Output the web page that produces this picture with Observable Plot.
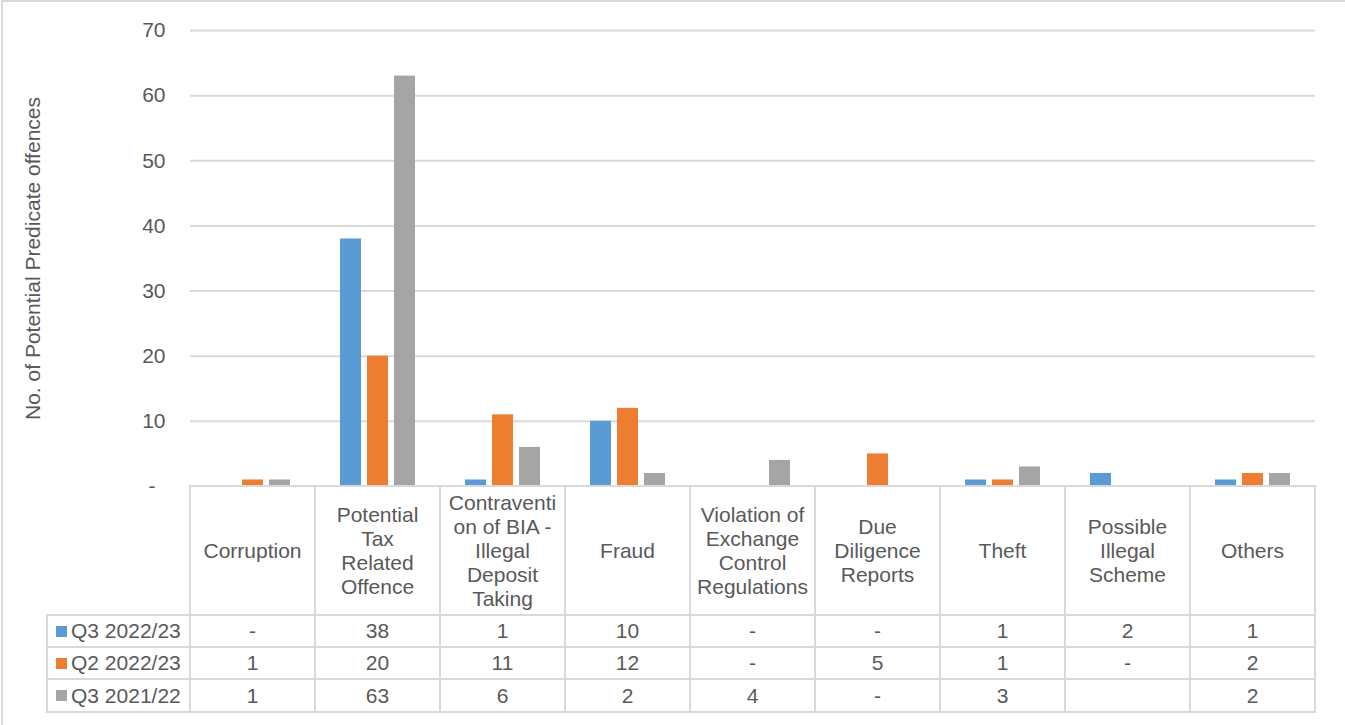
<!DOCTYPE html>
<html>
<head>
<meta charset="utf-8">
<script src="https://cdn.jsdelivr.net/npm/d3@7"></script>
<script src="https://cdn.jsdelivr.net/npm/@observablehq/plot@0.6"></script>
<style>
  body { margin: 0; background: #fff; }
  #wrap { position: relative; width: 1345px; height: 725px; overflow: hidden;
          font-family: "Liberation Sans", Arial, sans-serif; color: #595959; background: #fff; }
  #frame { position: absolute; left: 1px; top: 0; width: 1400px; height: 800px;
           border-left: 2px solid #d9d9d9; border-top: 2px solid #d9d9d9; box-sizing: border-box; }
  #chart { position: absolute; left: 0; top: 0; }
  .cell { position: absolute; box-sizing: border-box; border: 2px solid #d9d9d9;
          display: flex; align-items: center; justify-content: center; text-align: center;
          font-size: 21px; line-height: 24px; color: #595959; }
  .leg { justify-content: flex-start; padding-left: 8px; }
  .sw { width: 11px; height: 11px; margin-right: 4px; flex: none; }
</style>
</head>
<body>
<div id="wrap"><div id="frame"></div><div id="chart"></div></div>
<script>
// ---- data ----
const categories = [
  "Corruption",
  "Potential Tax Related Offence",
  "Contravention of BIA - Illegal Deposit Taking",
  "Fraud",
  "Violation of Exchange Control Regulations",
  "Due Diligence Reports",
  "Theft",
  "Possible Illegal Scheme",
  "Others"
];
const headerLines = [
  ["Corruption"],
  ["Potential", "Tax", "Related", "Offence"],
  ["Contraventi", "on of BIA -", "Illegal", "Deposit", "Taking"],
  ["Fraud"],
  ["Violation of", "Exchange", "Control", "Regulations"],
  ["Due", "Diligence", "Reports"],
  ["Theft"],
  ["Possible", "Illegal", "Scheme"],
  ["Others"]
];
const series = ["Q3 2022/23", "Q2 2022/23", "Q3 2021/22"];
const seriesColors = ["#5b9bd5", "#ed7d31", "#a5a5a5"];
const q3_2022_23 = [0, 38, 1, 10, 0, 0, 1, 2, 1];
const q2_2022_23 = [1, 20, 11, 12, 0, 5, 1, 0, 2];
const q3_2021_22 = [1, 63, 6, 2, 4, 0, 3, null, 2];
const yTicks = [0, 10, 20, 30, 40, 50, 60, 70];
const yTitle = "No. of Potential Predicate offences";

const seriesValues = [q3_2022_23, q2_2022_23, q3_2021_22];
const rows = [];
categories.forEach((c, i) => series.forEach((s, j) => {
  const v = seriesValues[j][i];
  if (v != null) rows.push({cat: c, series: s, value: v});
}));

const font = '"Liberation Sans", Arial, sans-serif';
const plot = Plot.plot({
  width: 1345,
  height: 488,
  marginLeft: 188,
  marginRight: 28,
  marginTop: 30,
  marginBottom: 2,
  style: {fontFamily: font, fontSize: "21px", color: "#595959", background: "transparent", overflow: "visible"},
  fx: {domain: categories, padding: 0, axis: null, label: null},
  x: {domain: series, paddingInner: 0.23, paddingOuter: 0.854, axis: null, label: null},
  y: {domain: [0, 70], axis: null},
  color: {domain: series, range: seriesColors},
  marks: [
    Plot.gridY(yTicks.filter(d => d > 0), {stroke: "#d9d9d9", strokeOpacity: 1, strokeWidth: 2}),
    Plot.barY(rows, {fx: "cat", x: "series", y: "value", fill: "series"}),
    Plot.axisY(yTicks.filter(d => d > 0), {tickSize: 0, tickPadding: 25, label: null, fill: "#595959"}),
    Plot.axisY([0], {tickSize: 0, tickPadding: 35, tickFormat: () => "-", fill: "#595959",
      label: yTitle, labelAnchor: "center", labelOffset: 165, labelArrow: "none"})
  ]
});
document.getElementById("chart").appendChild(plot);

// ---- data table below the axis, aligned to the fx scale ----
const fx = plot.scale("fx");
const bw = fx.bandwidth;
const rowEdges = [486, 615, 647, 679, 712];
const legendLeft = 47;
const wrap = document.getElementById("wrap");
function cell(x0, x1, y0, y1, html, cls) {
  const d = document.createElement("div");
  d.className = "cell" + (cls ? " " + cls : "");
  d.style.left = (x0 - 1) + "px";
  d.style.top = (y0 - 1) + "px";
  d.style.width = (x1 - x0 + 2) + "px";
  d.style.height = (y1 - y0 + 2) + "px";
  d.innerHTML = html;
  wrap.appendChild(d);
}
const plotLeft = fx.apply(categories[0]);
categories.forEach((c, i) => {
  const x0 = fx.apply(c), x1 = x0 + bw;
  cell(x0, x1, rowEdges[0], rowEdges[1], headerLines[i].join("<br>"));
  series.forEach((s, j) => {
    const v = seriesValues[j][i];
    cell(x0, x1, rowEdges[j + 1], rowEdges[j + 2], v == null ? "" : v === 0 ? "-" : String(v));
  });
});
series.forEach((s, j) => {
  cell(legendLeft, plotLeft, rowEdges[j + 1], rowEdges[j + 2],
    `<span class="sw" style="background:${seriesColors[j]}"></span><span>${s}</span>`, "leg");
});
</script>
</body>
</html>
